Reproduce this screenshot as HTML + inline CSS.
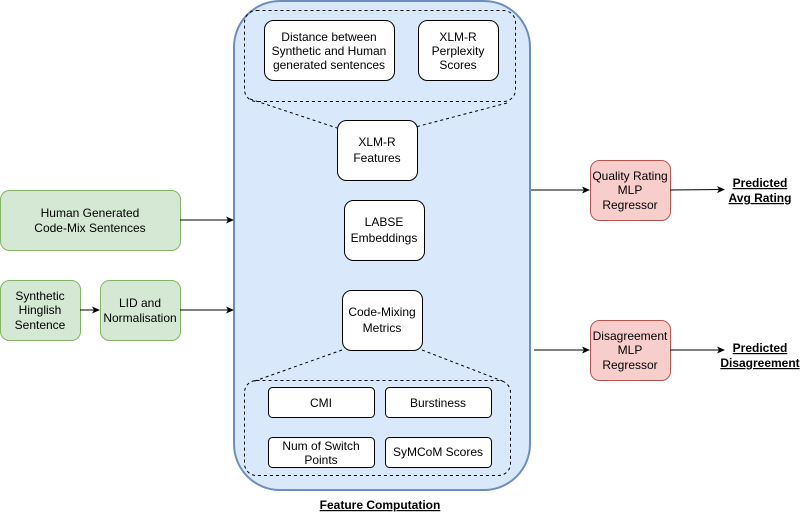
<!DOCTYPE html>
<html><head><style>body{margin:0;background:#fff}svg{display:block}text{font-family:"Liberation Sans",sans-serif;font-size:12px;fill:#000}</style></head><body>
<svg width="809" height="521" viewBox="0 0 809 521">
<defs><marker id="a" markerWidth="8" markerHeight="8" refX="7" refY="4" orient="auto" markerUnits="userSpaceOnUse"><path d="M0,0.5 L8,4 L0,7.5 L2,4z" fill="#000"/></marker></defs>
<rect x="234" y="1" width="296" height="489" rx="46" fill="#dae8fc" stroke="#6c8ebf" stroke-width="2"/>
<g fill="none" stroke="#000" stroke-dasharray="3,3">
<rect x="244.5" y="10.5" width="271" height="91" rx="12"/>
<rect x="244.5" y="380.5" width="266" height="95" rx="12"/>
<path d="M250,99 L337,128 M507,103 L404,130 M342,350 L252,382 M422,350 L505,382"/>
</g>
<g fill="#fff" stroke="#000">
<rect x="264.5" y="20.5" width="130" height="60" rx="9"/>
<rect x="418.5" y="20.5" width="80" height="60" rx="9"/>
<rect x="337.5" y="120.5" width="80" height="60" rx="9"/>
<rect x="344.5" y="200.5" width="80" height="60" rx="9"/>
<rect x="342.5" y="290.5" width="80" height="60" rx="9"/>
<rect x="268.5" y="387.5" width="106" height="30" rx="4"/>
<rect x="385.5" y="387.5" width="106" height="30" rx="4"/>
<rect x="268.5" y="437.5" width="106" height="30" rx="4"/>
<rect x="385.5" y="437.5" width="106" height="30" rx="4"/>
</g>
<g fill="#d5e8d4" stroke="#82b366">
<rect x="0.5" y="190.5" width="180" height="60" rx="9"/>
<rect x="0.5" y="280.5" width="80" height="60" rx="9"/>
<rect x="100.5" y="280.5" width="80" height="60" rx="9"/>
</g>
<g fill="#f8cecc" stroke="#b85450">
<rect x="590.5" y="160.5" width="80" height="60" rx="9"/>
<rect x="590.5" y="320.5" width="80" height="60" rx="9"/>
</g>
<g stroke="#000" marker-end="url(#a)">
<line x1="180" y1="220" x2="233" y2="220"/>
<line x1="80" y1="310" x2="99" y2="310"/>
<line x1="180" y1="310" x2="233" y2="310"/>
<line x1="531" y1="190" x2="589" y2="190"/>
<line x1="534" y1="350" x2="589" y2="350"/>
<line x1="670" y1="190" x2="724" y2="189.5"/>
<line x1="670" y1="350" x2="724" y2="350"/>
</g>
<g text-anchor="middle">
<text x="329" y="41">Distance between</text><text x="329" y="55">Synthetic and Human</text><text x="329" y="69">generated sentences</text>
<text x="458" y="41">XLM-R</text><text x="458" y="55">Perplexity</text><text x="458" y="69">Scores</text>
<text x="377" y="146">XLM-R</text><text x="377" y="162">Features</text>
<text x="384" y="226">LABSE</text><text x="384" y="242">Embeddings</text>
<text x="382" y="316">Code-Mixing</text><text x="382" y="332">Metrics</text>
<text x="321" y="407">CMI</text>
<text x="438" y="407">Burstiness</text>
<text x="321" y="450">Num of Switch</text><text x="321" y="464">Points</text>
<text x="438" y="456">SyMCoM Scores</text>
<text x="90" y="217">Human Generated</text><text x="90" y="232">Code-Mix Sentences</text>
<text x="40" y="300">Synthetic</text><text x="40" y="314">Hinglish</text><text x="40" y="329">Sentence</text>
<text x="140" y="307">LID and</text><text x="140" y="322">Normalisation</text>
<text x="630" y="180">Quality Rating</text><text x="630" y="194">MLP</text><text x="630" y="209">Regressor</text>
<text x="630" y="340">Disagreement</text><text x="630" y="354">MLP</text><text x="630" y="369">Regressor</text>
<g font-weight="bold" text-decoration="underline" style="font-weight:bold">
<text x="760" y="187">Predicted </text><text x="760" y="202">Avg Rating</text>
<text x="760" y="352">Predicted </text><text x="760" y="367">Disagreement</text>
<text x="380" y="509">Feature Computation</text>
</g>
</g>
</svg>
</body></html>
